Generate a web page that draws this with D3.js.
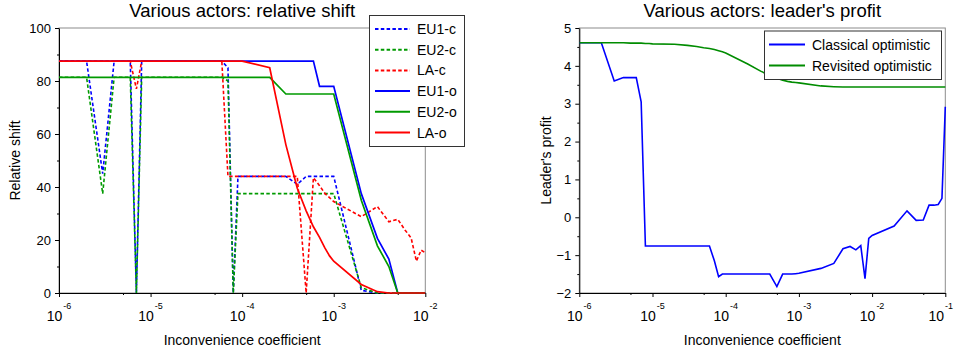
<!DOCTYPE html>
<html>
<head>
<meta charset="utf-8">
<script src="https://cdn.jsdelivr.net/npm/d3@7"></script>
<style>
  body { margin: 0; background: #fff; }
  svg { display: block; font-family: "Liberation Sans", Arial, sans-serif; }
</style>
</head>
<body>
<div id="chart"></div>
<script>
// ---- data: left panel (relative shift) ----
var xShift = [1e-6,2e-6,3e-6,4e-6,5e-6,6e-6,7e-6,8e-6,9e-6,
              1e-5,2e-5,3e-5,4e-5,5e-5,6e-5,7e-5,8e-5,9e-5,
              1e-4,2e-4,3e-4,4e-4,5e-4,6e-4,7e-4,8e-4,9e-4,
              1e-3,2e-3,3e-3,4e-3,5e-3,6e-3,7e-3,8e-3,9e-3,
              1e-2];
var eu1c = [87.5,87.5,45,87.5,87.5,87.5,0,87.5,87.5,
            87.5,87.5,87.5,87.5,87.5,87.5,85,0,44,
            44,44,44,41,44,44,44,44,44,
            44,1,0,0,0,0,0,0,0,
            0];
var eu2c = [81.4,81.4,37.5,81.4,81.4,81.4,0,81.4,81.4,
            81.4,81.4,81.4,81.4,81.4,81.4,80,0,37.5,
            37.5,37.5,37.5,37.5,37.5,37.5,37.5,37.5,37.5,
            37.5,2,0,0,0,0,0,0,0,
            0];
var lac  = [87.5,87.5,87.5,87.5,87.5,87.5,77,87.5,87.5,
            87.5,87.5,87.5,87.5,87.5,87.5,44,44,44,
            44,44,44,44,0,43.5,40.5,37.6,36,
            34.5,28.8,32.6,26.9,27.8,23.8,20.8,12,16.2,
            15.2];
var eu1o = [87.5,87.5,87.5,87.5,87.5,87.5,87.5,87.5,87.5,
            87.5,87.5,87.5,87.5,87.5,87.5,87.5,87.5,87.5,
            87.5,87.5,87.5,87.5,87.5,87.5,78,78,78,
            78,37.5,20.6,12.8,0,0,0,0,0,
            0];
var eu2o = [81.4,81.4,81.4,81.4,81.4,81.4,81.4,81.4,81.4,
            81.4,81.4,81.4,81.4,81.4,81.4,81.4,81.4,81.4,
            81.4,81.4,75.1,75.1,75.1,75.1,75.1,75.1,75.1,
            75.1,35,17.8,10,0,0,0,0,0,
            0];
var lao  = [87.5,87.5,87.5,87.5,87.5,87.5,87.5,87.5,87.5,
            87.5,87.5,87.5,87.5,87.5,87.5,87.5,87.5,87.5,
            87.5,85,56,39.5,31,25,21,17,14,
            12,3.2,0.5,0,0,0,0,0,0,
            0];
var shiftNames = ["EU1-c", "EU2-c", "LA-c", "EU1-o", "EU2-o", "LA-o"];
var shiftTicks = [0, 20, 40, 60, 80, 100];
var shiftMinor = [10, 30, 50, 70, 90];
var shiftDecades = [-6, -5, -4, -3, -2];

// ---- data: right panel (leader's profit) ----
var xProfit = [1e-6,2e-6,3e-6,4e-6,5e-6,6e-6,7e-6,8e-6,9e-6,
               1e-5,2e-5,3e-5,4e-5,5e-5,6e-5,7e-5,8e-5,9e-5,
               1e-4,2e-4,3e-4,4e-4,5e-4,6e-4,7e-4,8e-4,9e-4,
               1e-3,2e-3,3e-3,4e-3,5e-3,6e-3,7e-3,8e-3,9e-3,
               1e-2,2e-2,3e-2,4e-2,5e-2,6e-2,7e-2,8e-2,9e-2,
               1e-1];
var classical = [4.61,4.61,3.6,3.69,3.69,3.69,3.05,-0.76,-0.76,
                 -0.76,-0.76,-0.76,-0.76,-0.76,-0.76,-1.15,-1.57,-1.5,
                 -1.5,-1.5,-1.5,-1.5,-1.83,-1.5,-1.5,-1.5,-1.49,
                 -1.48,-1.35,-1.22,-0.83,-0.77,-0.86,-0.75,-1.62,-0.56,
                 -0.48,-0.23,0.17,-0.08,-0.07,0.32,0.32,0.34,0.5,
                 2.92];
var revisited = [4.61,4.61,4.61,4.61,4.6,4.6,4.6,4.59,4.59,
                 4.58,4.57,4.54,4.51,4.48,4.46,4.43,4.4,4.37,
                 4.34,4.05,3.86,3.75,3.67,3.62,3.59,3.57,3.56,
                 3.55,3.47,3.45,3.44,3.44,3.44,3.44,3.44,3.44,
                 3.44,3.44,3.44,3.44,3.44,3.44,3.44,3.44,3.44,
                 3.44];
var profitNames = ["Classical optimistic", "Revisited optimistic"];
var profitTicks = [-2, -1, 0, 1, 2, 3, 4, 5];
var profitMinor = [-1.5, -0.5, 0.5, 1.5, 2.5, 3.5, 4.5];
var profitDecades = [-6, -5, -4, -3, -2, -1];

var W = 954;
var svg = d3.select("#chart").append("svg")
    .attr("width", W)
    .attr("height", 354);

// draws one panel: frame, axes, labels, lines
function panel(opt) {
  var x = d3.scaleLog().domain(opt.xdom).range([opt.left, opt.right]);
  var y = d3.scaleLinear().domain(opt.ydom).range([opt.bottom, opt.top]);
  var g = svg.append("g");

  g.append("clipPath").attr("id", opt.id)
    .append("rect")
      .attr("x", opt.left).attr("y", opt.top - 2)
      .attr("width", opt.right - opt.left + 2)
      .attr("height", opt.bottom - opt.top + 4);

  // grey frame
  g.append("rect")
    .attr("x", opt.left).attr("y", opt.top)
    .attr("width", opt.right - opt.left)
    .attr("height", opt.bottom - opt.top)
    .style("fill", "none")
    .style("stroke", "#8c8c8c");

  var majors = opt.decades.map(function(d) { return Math.pow(10, d); });
  var minors = opt.decades.slice(0, -1).map(function(d) { return 5 * Math.pow(10, d); });

  // x axis
  g.append("g")
    .attr("transform", "translate(0," + opt.bottom + ")")
    .call(d3.axisBottom(x).tickValues(majors).tickSize(4).tickSizeOuter(0).tickFormat(""));
  g.append("g")
    .attr("transform", "translate(0," + opt.bottom + ")")
    .call(d3.axisBottom(x).tickValues(minors).tickSize(2).tickSizeOuter(0).tickFormat(""))
    .select(".domain").remove();

  // 10^n labels
  var lab = g.selectAll(".xlab").data(opt.decades).enter().append("text")
    .attr("class", "xlab")
    .attr("x", function(d) { return x(Math.pow(10, d)); })
    .attr("y", opt.bottom + 28)
    .style("text-anchor", "middle")
    .style("font-size", "14px");
  lab.append("tspan").text("10");
  lab.append("tspan")
    .attr("dy", -12).attr("dx", 1)
    .style("font-size", "9px")
    .text(function(d) { return d; });
  // keep the last label inside the page
  lab.each(function() {
    var b = this.getBBox();
    if (b.x + b.width > W - 1) {
      d3.select(this).attr("x", +d3.select(this).attr("x") - (b.x + b.width - W + 1));
    }
  });

  // y axis
  g.append("g")
    .attr("transform", "translate(" + opt.left + ",0)")
    .call(d3.axisLeft(y).tickValues(opt.yticks).tickSize(4).tickSizeOuter(0)
      .tickPadding(4).tickFormat(d3.format("d")))
    .selectAll("text")
      .style("font-size", "13px")
      .style("font-family", "Liberation Sans, Arial, sans-serif");
  g.append("g")
    .attr("transform", "translate(" + opt.left + ",0)")
    .call(d3.axisLeft(y).tickValues(opt.yminor).tickSize(2).tickFormat(""))
    .select(".domain").remove();

  // title and axis labels
  g.append("text")
    .attr("x", (opt.left + opt.right) / 2)
    .attr("y", 17)
    .style("text-anchor", "middle")
    .style("font-size", "18.5px")
    .text(opt.title);
  g.append("text")
    .attr("x", (opt.left + opt.right) / 2)
    .attr("y", 345)
    .style("text-anchor", "middle")
    .style("font-size", "14px")
    .text("Inconvenience coefficient");
  g.append("text")
    .attr("transform", "translate(" + opt.ylabX + "," + ((opt.top + opt.bottom) / 2) + ") rotate(-90)")
    .style("text-anchor", "middle")
    .style("font-size", "14px")
    .text(opt.ylabel);

  // lines
  var line = d3.line()
    .x(function(d) { return x(d[0]); })
    .y(function(d) { return y(d[1]); });
  opt.series.forEach(function(s) {
    g.append("path")
      .datum(opt.xs.map(function(v, i) { return [v, s.values[i]]; }))
      .attr("clip-path", "url(#" + opt.id + ")")
      .attr("d", line)
      .style("fill", "none")
      .style("stroke", s.color)
      .style("stroke-width", s.width)
      .style("stroke-dasharray", s.dash ? "3.5,2.3" : null);
  });

  // legend
  var L = opt.legend;
  g.append("rect")
    .attr("x", L.x + 0.5).attr("y", L.y + 0.5)
    .attr("width", L.w).attr("height", L.h)
    .style("fill", "#fff")
    .style("stroke", "#333");
  opt.series.forEach(function(s, i) {
    var cy = L.y + L.first + i * L.step;
    g.append("line")
      .attr("x1", L.x + L.lx1).attr("x2", L.x + L.lx2)
      .attr("y1", cy).attr("y2", cy)
      .style("stroke", s.color)
      .style("stroke-width", 2)
      .style("stroke-dasharray", s.dash ? "3.5,2.3" : null);
    g.append("text")
      .attr("x", L.x + L.tx)
      .attr("y", cy + 5)
      .style("font-size", "14px")
      .text(s.name);
  });
}

var blue = "#0000ff", green = "#009a00", red = "#ff0000";

panel({
  id: "clipShift",
  left: 59, right: 425.3, top: 28, bottom: 293,
  xdom: [1e-6, 1e-2], ydom: [0, 100],
  decades: shiftDecades, yticks: shiftTicks, yminor: shiftMinor,
  title: "Various actors: relative shift",
  ylabel: "Relative shift", ylabX: 20,
  xs: xShift,
  series: [
    {name: shiftNames[0], values: eu1c, color: blue,  dash: true,  width: 1.6},
    {name: shiftNames[1], values: eu2c, color: green, dash: true,  width: 1.6},
    {name: shiftNames[2], values: lac,  color: red,   dash: true,  width: 1.6},
    {name: shiftNames[3], values: eu1o, color: blue,  dash: false, width: 1.7},
    {name: shiftNames[4], values: eu2o, color: green, dash: false, width: 1.7},
    {name: shiftNames[5], values: lao,  color: red,   dash: false, width: 1.7}
  ],
  legend: {x: 369, y: 15, w: 95, h: 131, first: 14, step: 20.7, lx1: 6, lx2: 41, tx: 48}
});

panel({
  id: "clipProfit",
  left: 579.3, right: 945.3, top: 28, bottom: 293,
  xdom: [1e-6, 1e-1], ydom: [-2, 5],
  decades: profitDecades, yticks: profitTicks, yminor: profitMinor,
  title: "Various actors: leader's profit",
  ylabel: "Leader's profit", ylabX: 551,
  xs: xProfit,
  series: [
    {name: profitNames[0], values: classical, color: blue,      dash: false, width: 1.6},
    {name: profitNames[1], values: revisited, color: "#008c00", dash: false, width: 1.6}
  ],
  legend: {x: 764, y: 30.5, w: 177, h: 48.5, first: 14, step: 21, lx1: 5, lx2: 41, tx: 48}
});
</script>
</body>
</html>
